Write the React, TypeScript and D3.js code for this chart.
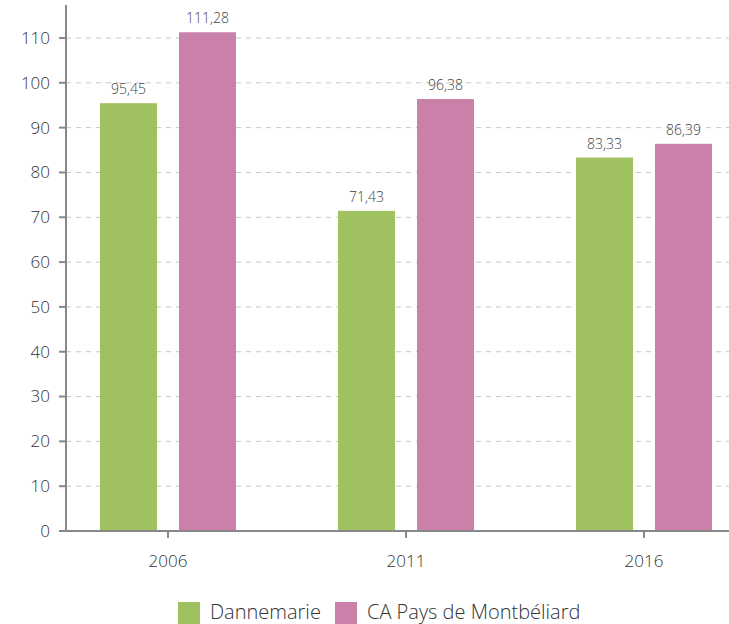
import React from "react";
import * as d3 from "d3";

const categories = ["2006", "2011", "2016"];
const seriesNames = ["Dannemarie", "CA Pays de Montbéliard"];
const dannemarie = [95.45, 71.43, 83.33];
const montbeliard = [111.28, 96.38, 86.39];
const yTicks = [0, 10, 20, 30, 40, 50, 60, 70, 80, 90, 100, 110];
const colors = ["#9fc15f", "#c981a9"];

const W = 729;
const H = 624;
const FONT = "'Open Sans', 'Noto Sans', sans-serif";

export default function App() {
  const y = d3.scaleLinear().domain([0, 110]).range([531, 38]);
  const x = d3.scalePoint<string>().domain(categories).range([168, 644]);
  const barW = 57;
  const gap = 22;
  const series = [dannemarie, montbeliard];
  const fmt = (v: number) => v.toFixed(2).replace(".", ",");

  return (
    <svg width={W} height={H} style={{ position: "absolute", left: 0, top: 0, background: "#fff" }}>
      {yTicks.map((t) => (
        <g key={t}>
          {t > 0 && (
            <line x1={66} x2={729} y1={y(t)} y2={y(t)} stroke="#c8c8c8" strokeWidth={1} strokeDasharray="5,5" />
          )}
          <line x1={59} x2={66} y1={y(t)} y2={y(t)} stroke="#888" strokeWidth={2} />
          <text x={50} y={y(t)} dy="0.35em" textAnchor="end" fontFamily={FONT} fontWeight={300} fontSize={17} fill="#333">
            {t}
          </text>
        </g>
      ))}
      {categories.map((c, i) => {
        const cx = x(c)!;
        return (
          <g key={c}>
            {series.map((s, k) => {
              const bx = k === 0 ? cx - gap / 2 - barW : cx + gap / 2;
              return (
                <g key={k}>
                  <rect x={bx} y={y(s[i])} width={barW} height={y(0) - y(s[i])} fill={colors[k]} />
                  <text
                    x={bx + barW / 2}
                    y={y(s[i]) - 9}
                    textAnchor="middle"
                    fontFamily={FONT}
                    fontWeight={300}
                    fontSize={14}
                    fill="#444"
                  >
                    {fmt(s[i])}
                  </text>
                </g>
              );
            })}
            <line x1={cx} x2={cx} y1={531} y2={538} stroke="#888" strokeWidth={2} />
            <text x={cx} y={567} textAnchor="middle" fontFamily={FONT} fontWeight={300} fontSize={17} fill="#333">
              {c}
            </text>
          </g>
        );
      })}
      <line x1={59} x2={729} y1={531} y2={531} stroke="#888" strokeWidth={2} />
      <line x1={66} x2={66} y1={5} y2={532} stroke="#888" strokeWidth={2} />
      {seriesNames.map((n, k) => {
        const lx = k === 0 ? 178 : 335;
        return (
          <g key={n}>
            <rect x={lx} y={602} width={22} height={22} fill={colors[k]} />
            <text x={lx + 32} y={612} dy="0.35em" fontFamily={FONT} fontWeight={300} fontSize={20} fill="#333">
              {n}
            </text>
          </g>
        );
      })}
    </svg>
  );
}
